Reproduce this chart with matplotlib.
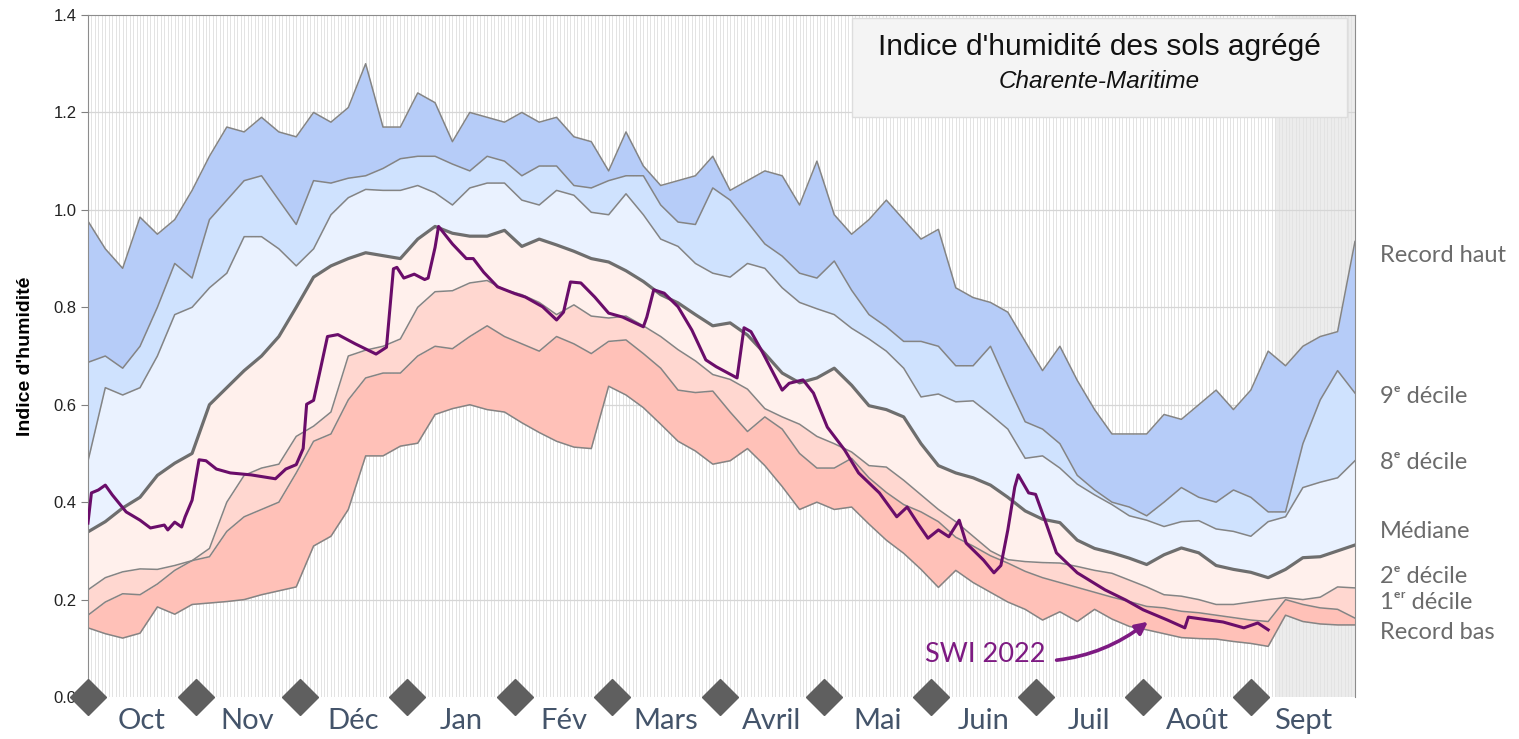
import numpy as np
import matplotlib.pyplot as plt

# jours depuis le 1er octobre, une valeur tous les 5 jours
days = list(range(0, 366, 5))

record_haut = [0.977, 0.92, 0.88, 0.985, 0.95, 0.98, 1.04, 1.11, 1.17, 1.16,
               1.19, 1.16, 1.15, 1.20, 1.18, 1.21, 1.30, 1.17, 1.17, 1.24,
               1.22, 1.14, 1.20, 1.19, 1.18, 1.20, 1.18, 1.19, 1.15, 1.14,
               1.08, 1.16, 1.09, 1.05, 1.06, 1.07, 1.11, 1.04, 1.06, 1.08,
               1.07, 1.01, 1.10, 0.99, 0.95, 0.98, 1.02, 0.98, 0.94, 0.96,
               0.84, 0.82, 0.81, 0.79, 0.73, 0.67, 0.72, 0.65, 0.59, 0.54,
               0.54, 0.54, 0.58, 0.57, 0.60, 0.63, 0.59, 0.63, 0.71, 0.68,
               0.72, 0.74, 0.75, 0.935]
decile_9 = [0.687, 0.70, 0.675, 0.72, 0.80, 0.89, 0.86, 0.98, 1.02, 1.06,
            1.07, 1.02, 0.97, 1.06, 1.055, 1.065, 1.07, 1.085, 1.105, 1.11,
            1.11, 1.094, 1.08, 1.11, 1.10, 1.07, 1.09, 1.09, 1.05, 1.045,
            1.06, 1.07, 1.07, 1.01, 0.975, 0.97, 1.045, 1.02, 0.975, 0.93,
            0.905, 0.87, 0.86, 0.895, 0.835, 0.785, 0.76, 0.73, 0.73, 0.72,
            0.68, 0.68, 0.72, 0.64, 0.565, 0.55, 0.52, 0.455, 0.425, 0.40,
            0.39, 0.372, 0.40, 0.43, 0.41, 0.40, 0.425, 0.41, 0.38, 0.38,
            0.52, 0.61, 0.67, 0.624]
decile_8 = [0.484, 0.635, 0.62, 0.635, 0.70, 0.785, 0.80, 0.84, 0.87, 0.945,
            0.945, 0.92, 0.885, 0.92, 0.99, 1.025, 1.042, 1.04, 1.04, 1.05,
            1.035, 1.01, 1.045, 1.055, 1.055, 1.02, 1.01, 1.04, 1.03, 0.995,
            0.99, 1.033, 0.99, 0.94, 0.925, 0.89, 0.87, 0.862, 0.89, 0.88,
            0.84, 0.81, 0.797, 0.785, 0.757, 0.735, 0.71, 0.675, 0.616, 0.622,
            0.606, 0.608, 0.58, 0.55, 0.49, 0.495, 0.47, 0.437, 0.415, 0.395,
            0.372, 0.363, 0.35, 0.36, 0.362, 0.345, 0.34, 0.33, 0.36, 0.37,
            0.43, 0.441, 0.45, 0.485]
mediane = [0.339, 0.36, 0.388, 0.41, 0.455, 0.48, 0.50, 0.60, 0.635, 0.67,
           0.70, 0.74, 0.80, 0.862, 0.885, 0.90, 0.912, 0.906, 0.90, 0.94,
           0.966, 0.952, 0.946, 0.946, 0.958, 0.925, 0.94, 0.928, 0.915, 0.90,
           0.893, 0.875, 0.853, 0.826, 0.809, 0.785, 0.762, 0.768, 0.743, 0.705,
           0.665, 0.645, 0.655, 0.675, 0.64, 0.598, 0.59, 0.575, 0.52, 0.475,
           0.46, 0.45, 0.435, 0.41, 0.382, 0.365, 0.358, 0.322, 0.305, 0.296,
           0.285, 0.272, 0.292, 0.306, 0.296, 0.27, 0.262, 0.256, 0.245, 0.262,
           0.286, 0.288, 0.30, 0.312]
decile_2 = [0.22, 0.245, 0.257, 0.263, 0.262, 0.27, 0.28, 0.305, 0.40, 0.455,
            0.47, 0.478, 0.535, 0.556, 0.585, 0.70, 0.712, 0.72, 0.735, 0.80,
            0.832, 0.834, 0.85, 0.855, 0.836, 0.826, 0.81, 0.785, 0.805, 0.782,
            0.778, 0.782, 0.762, 0.74, 0.713, 0.69, 0.662, 0.652, 0.632, 0.592,
            0.575, 0.56, 0.535, 0.52, 0.503, 0.475, 0.472, 0.445, 0.415, 0.385,
            0.36, 0.33, 0.30, 0.282, 0.278, 0.276, 0.275, 0.268, 0.26, 0.254,
            0.24, 0.226, 0.21, 0.207, 0.20, 0.19, 0.19, 0.195, 0.20, 0.204,
            0.20, 0.205, 0.226, 0.224]
decile_1 = [0.168, 0.195, 0.212, 0.21, 0.232, 0.26, 0.28, 0.288, 0.34, 0.37,
            0.385, 0.40, 0.46, 0.525, 0.54, 0.61, 0.655, 0.665, 0.665, 0.70,
            0.72, 0.715, 0.74, 0.762, 0.74, 0.725, 0.71, 0.74, 0.725, 0.705,
            0.73, 0.733, 0.705, 0.675, 0.63, 0.625, 0.628, 0.585, 0.545, 0.575,
            0.55, 0.50, 0.47, 0.47, 0.49, 0.45, 0.42, 0.395, 0.38, 0.36,
            0.328, 0.31, 0.29, 0.275, 0.258, 0.245, 0.235, 0.225, 0.215, 0.205,
            0.196, 0.186, 0.183, 0.176, 0.173, 0.168, 0.163, 0.158, 0.155, 0.20,
            0.19, 0.183, 0.18, 0.162]
record_bas = [0.142, 0.13, 0.121, 0.131, 0.185, 0.17, 0.19, 0.193, 0.196, 0.20,
              0.21, 0.218, 0.226, 0.31, 0.33, 0.385, 0.495, 0.495, 0.515, 0.521,
              0.58, 0.592, 0.60, 0.59, 0.585, 0.563, 0.543, 0.525, 0.513, 0.51,
              0.638, 0.62, 0.594, 0.56, 0.525, 0.505, 0.478, 0.485, 0.51, 0.475,
              0.432, 0.385, 0.40, 0.385, 0.39, 0.355, 0.322, 0.295, 0.262, 0.225,
              0.26, 0.235, 0.215, 0.195, 0.18, 0.158, 0.175, 0.155, 0.18, 0.16,
              0.145, 0.138, 0.13, 0.122, 0.12, 0.119, 0.114, 0.11, 0.104, 0.168,
              0.155, 0.15, 0.148, 0.148]

# SWI 2022, points
swi_days = [0, 1, 3, 5, 7, 11, 15, 18, 22, 23, 25, 27, 28, 30, 32, 34, 37, 41,
            47, 54, 57, 60, 62, 63, 65, 67, 69, 72, 77, 81, 83, 86, 88, 89, 91,
            94, 97, 98, 100, 101, 105, 109, 111, 114, 118, 123, 126, 131, 135,
            137, 139, 142, 146, 150, 154, 160, 161, 163, 166, 170, 174, 178,
            181, 187, 189, 191, 194, 200, 202, 206, 209, 213, 218, 222, 228,
            233, 236, 239, 242, 245, 248, 251, 253, 258, 261, 263, 265, 267,
            268, 271, 273, 276, 279, 285, 293, 299, 304, 311, 316, 317, 327,
            333, 337, 340]
swi_2022 = [0.357, 0.419, 0.425, 0.435, 0.415, 0.38, 0.363, 0.347, 0.353, 0.343,
            0.359, 0.349, 0.37, 0.404, 0.487, 0.485, 0.468, 0.46, 0.456, 0.448,
            0.468, 0.477, 0.51, 0.601, 0.609, 0.674, 0.74, 0.744, 0.725, 0.711,
            0.704, 0.718, 0.879, 0.882, 0.86, 0.868, 0.857, 0.86, 0.923, 0.966,
            0.93, 0.90, 0.90, 0.872, 0.842, 0.828, 0.821, 0.801, 0.774, 0.79,
            0.852, 0.85, 0.821, 0.788, 0.78, 0.76, 0.78, 0.836, 0.829, 0.801,
            0.753, 0.692, 0.678, 0.655, 0.758, 0.75, 0.712, 0.63, 0.644, 0.651,
            0.624, 0.554, 0.507, 0.46, 0.419, 0.37, 0.39, 0.357, 0.326, 0.343,
            0.329, 0.363, 0.316, 0.281, 0.255, 0.27, 0.343, 0.431, 0.456, 0.419,
            0.416, 0.357, 0.296, 0.255, 0.22, 0.199, 0.179, 0.158, 0.142, 0.164,
            0.154, 0.142, 0.152, 0.138]

month_labels = ['Oct', 'Nov', 'Déc', 'Jan', 'Fév', 'Mars', 'Avril', 'Mai',
                'Juin', 'Juil', 'Août', 'Sept']
month_starts = [0, 31, 61, 92, 123, 151, 182, 212, 243, 273, 304, 335]

side_labels = ['Record haut', '9ᵉ décile', '8ᵉ décile', 'Médiane',
               '2ᵉ décile', '1ᵉʳ décile', 'Record bas']
side_label_y = [0.907, 0.616, 0.482, 0.339, 0.248, 0.195, 0.133]


def plot_indice():
    fig = plt.figure(figsize=(15.19, 7.39), dpi=100)
    ax = fig.add_axes([0.0579, 0.0568, 0.8341, 0.9229])

    # fond : traits verticaux journaliers, zone grisée après la dernière donnée
    ax.axvspan(342, 365, color='#ececec', zorder=0, lw=0)
    ax.vlines(range(366), 0, 1.4, color='#e3e3e3', lw=0.7, zorder=0.2)
    for y in np.arange(0.2, 1.4, 0.2):
        ax.axhline(y, color='#d6d6d6', lw=0.9, zorder=0.3)

    bands = [(record_bas, decile_1, '#ffc1b8'),
             (decile_1, decile_2, '#ffd7d0'),
             (decile_2, mediane, '#fff0ec'),
             (mediane, decile_8, '#eaf2ff'),
             (decile_8, decile_9, '#cfe2fe'),
             (decile_9, record_haut, '#b6ccf8')]
    for low, high, col in bands:
        ax.fill_between(days, low, high, color=col, lw=0, zorder=1)

    for serie in [record_bas, decile_1, decile_2, decile_8, decile_9, record_haut]:
        ax.plot(days, serie, color='#848484', lw=1.1, zorder=2)
    ax.plot(days, mediane, color='#6e6e6e', lw=2.3, zorder=2)

    ax.plot(swi_days, swi_2022, color='#6a0d6a', lw=2.2, zorder=3)

    ax.annotate('SWI 2022', xy=(306, 0.158), xytext=(258.5, 0.088),
                ha='center', va='center', fontsize=19.5, family='Lato',
                color='#7d1a82', zorder=4,
                arrowprops=dict(arrowstyle='-|>', color='#7d1a82', lw=2.6,
                                mutation_scale=18, shrinkA=6, shrinkB=2,
                                connectionstyle='arc3,rad=0.25'))

    ax.set_xlim(0, 365)
    ax.set_ylim(0, 1.4)

    # mois : losanges au début, nom au milieu
    month_ends = month_starts[1:] + [365]
    mids = [(a + b) / 2 for a, b in zip(month_starts, month_ends)]
    ax.set_xticks(mids)
    ax.set_xticklabels(month_labels, fontsize=21, family='Lato', color='#44546a')
    ax.tick_params(axis='x', length=0, pad=8)
    ax.plot(month_starts, [0] * len(month_starts), 'D', color='#5f5f5f',
            markersize=18, clip_on=False, zorder=6)

    ax.set_yticks(np.arange(0, 1.41, 0.2))
    ax.set_yticklabels(['%.1f' % v for v in np.arange(0, 1.41, 0.2)],
                       fontsize=12, family='Liberation Sans', color='#222222')
    ax.tick_params(axis='y', length=5, color='#808080', pad=3)
    ax.set_ylabel("Indice d'humidité", fontsize=14, family='Liberation Sans',
                  fontweight='bold', labelpad=14)

    for side in ['left', 'top', 'right']:
        ax.spines[side].set_color('#8c8c8c')
    ax.spines['bottom'].set_visible(False)

    # cartouche du titre
    box = plt.Rectangle((0.603, 0.85), 0.391, 0.146, transform=ax.transAxes,
                        facecolor='#f4f4f4', edgecolor='#dddddd', lw=1, zorder=5)
    ax.add_patch(box)
    ax.text(0.7985, 0.953, "Indice d'humidité des sols agrégé",
            transform=ax.transAxes, ha='center', va='center', fontsize=21.5,
            family='Liberation Sans', color='#111111', zorder=6)
    ax.text(0.7985, 0.902, 'Charente-Maritime', transform=ax.transAxes,
            ha='center', va='center', fontsize=17.5, style='italic',
            family='Liberation Sans', color='#111111', zorder=6)

    for lab, y in zip(side_labels, side_label_y):
        ax.text(1.0197, y, lab, transform=ax.get_yaxis_transform(),
                ha='left', va='center', fontsize=17,
                family=['Lato', 'DejaVu Sans'], color='#6b6b6b')

    fig.savefig('out.png', dpi=100)


def main():
    plot_indice()


if __name__ == '__main__':
    main()
